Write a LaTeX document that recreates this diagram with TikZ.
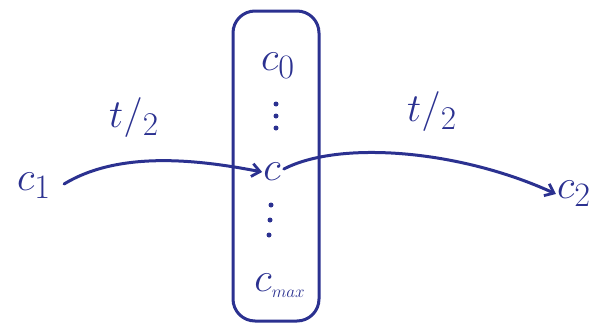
\documentclass[tikz,border=0pt]{standalone}
\usepackage{graphicx}
\usetikzlibrary{arrows.meta}
\definecolor{ink}{HTML}{2B3190}
\newcommand{\bigtxt}[1]{\scalebox{1.65}{\Huge #1}}
\newcommand{\midtxt}[1]{\scalebox{1.6}{\Huge #1}}
\begin{document}
\begin{tikzpicture}[x=1pt,y=-1pt,
  lbl/.style={text=ink,inner sep=1pt},
  pen/.style={draw=ink,line width=3pt,line cap=round,line join=round},
  dot/.style={circle,fill=ink,inner sep=0pt,minimum size=5pt},
  arr/.style={pen,-{Straight Barb[length=8pt,width=13pt,line width=2.8pt]}}]
\useasboundingbox (0,0) rectangle (594,324);
\node[pen,rounded corners=22pt,minimum width=86pt,minimum height=310pt] (box) at (276,166) {};
\node[lbl] (c0) at (278,66) {\bigtxt{$c_0$}};
\node[dot] (a1) at (276,104) {};
\node[dot] (a2) at (276,116) {};
\node[dot] (a3) at (276,128) {};
\node[lbl] (c) at (272,172) {\bigtxt{$c$}};
\node[dot] (b1) at (271,205) {};
\node[dot] (b2) at (270,220) {};
\node[dot] (b3) at (269,235) {};
\node[lbl] (cmax) at (280,286) {\bigtxt{$c_{\scalebox{0.6}{$\scriptscriptstyle max$}}$}};
\node[lbl] (c1) at (34,186) {\bigtxt{$c_1$}};
\node[lbl] (c2) at (574,194) {\bigtxt{$c_2$}};
\node[lbl] (l1) at (134,118) {\midtxt{$t/_{2}$}};
\node[lbl] (l2) at (432,112) {\midtxt{$t/_{2}$}};
\draw[arr] (c1.east) ++(12,-2) .. controls (120,150) and (200,160) .. (c.west);
\draw[arr] (c.east) ++(2,-3) .. controls (340,140) and (460,150) .. (c2.west);
\end{tikzpicture}
\end{document}
